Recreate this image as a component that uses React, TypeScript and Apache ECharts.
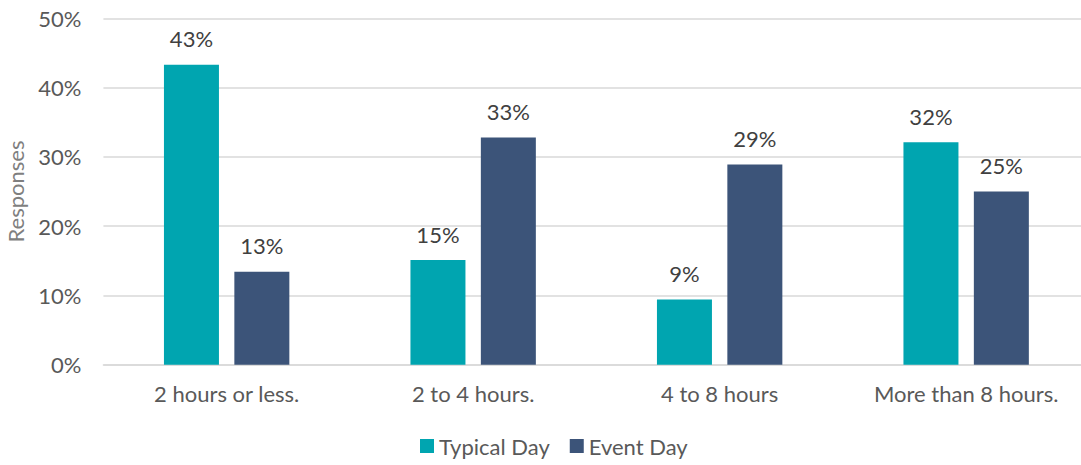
import React, { useEffect, useRef } from "react";
import * as echarts from "echarts";

const categories = ["2 hours or less.", "2 to 4 hours.", "4 to 8 hours", "More than 8 hours."];
const typicalDay = [43.3, 15.1, 9.4, 32.1];
const eventDay = [13.4, 32.8, 28.9, 25.0];
const yTicks = [0, 10, 20, 30, 40, 50];

const FONT = "Lato";
const FS = 22;

export default function App() {
  const ref = useRef<HTMLDivElement>(null);
  useEffect(() => {
    if (!ref.current) return;
    const chart = echarts.init(ref.current, null, { renderer: "svg" });
    const label = {
      show: true,
      position: "top" as const,
      distance: 15,
      color: "#404040",
      fontFamily: FONT,
      fontSize: FS,
      formatter: (p: any) => Math.round(p.value) + "%",
    };
    chart.setOption({
      animation: false,
      textStyle: { fontFamily: FONT },
      grid: {
        left: 103.4,
        width: 986,
        top: 18.3,
        bottom: 100.3,
        containLabel: false,
        outerBoundsMode: "none",
      },
      legend: {
        bottom: 3,
        left: 415,
        itemWidth: 14,
        itemHeight: 14,
        itemGap: 20,
        icon: "rect",
        textStyle: { color: "#595959", fontSize: FS, fontFamily: FONT },
        data: ["Typical Day", "Event Day"],
      },
      xAxis: {
        type: "category",
        data: categories,
        axisTick: { show: false },
        axisLine: { lineStyle: { color: "#d9d9d9", width: 1.5 } },
        axisLabel: { color: "#595959", fontSize: FS, fontFamily: FONT, margin: 18 },
      },
      yAxis: {
        type: "value",
        min: yTicks[0],
        max: yTicks[yTicks.length - 1],
        interval: 10,
        name: "Responses",
        nameLocation: "middle",
        nameGap: 77,
        nameTextStyle: { color: "#7f7f7f", fontSize: FS, fontFamily: FONT },
        axisLabel: { color: "#595959", fontSize: FS, fontFamily: FONT, margin: 22, formatter: "{value}%" },
        splitLine: { lineStyle: { color: "#d9d9d9", width: 1.5 } },
        axisLine: { show: false },
        axisTick: { show: false },
      },
      series: [
        {
          name: "Typical Day",
          type: "bar",
          data: typicalDay,
          barWidth: 55,
          barGap: "28%",
          itemStyle: { color: "#00A5B0" },
          label,
        },
        {
          name: "Event Day",
          type: "bar",
          data: eventDay,
          barWidth: 55,
          barGap: "28%",
          itemStyle: { color: "#3C5479" },
          label,
        },
      ],
    });
    return () => chart.dispose();
  }, []);
  return (
    <div style={{ position: "absolute", left: 0, top: 0, width: 1081, height: 465, overflow: "hidden", background: "#fff" }}>
      <div ref={ref} style={{ width: 1100, height: 465 }} />
    </div>
  );
}
